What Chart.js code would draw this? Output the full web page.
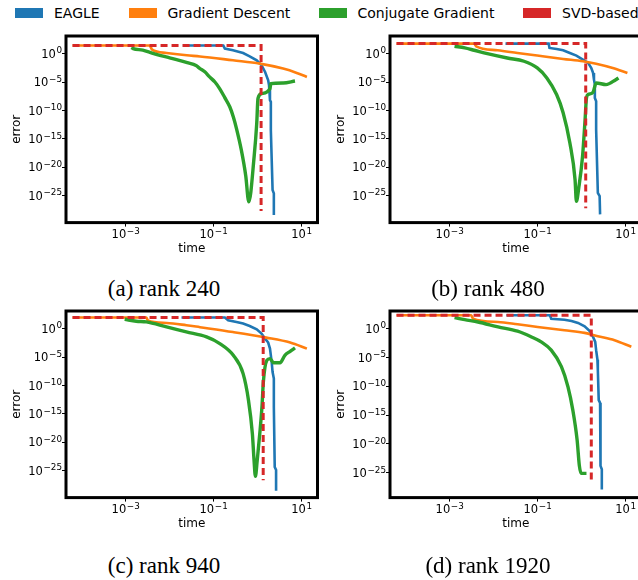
<!DOCTYPE html>
<html>
<head>
<meta charset="utf-8">
<script src="https://cdn.jsdelivr.net/npm/chart.js@4.4.0/dist/chart.umd.min.js"></script>
<style>
  body { margin: 0; width: 638px; height: 580px; overflow: hidden; background: #fff; position: relative; font-family: "DejaVu Sans", sans-serif; }
  canvas { position: absolute; }
  .lbox { position: absolute; top: 8px; width: 28px; height: 10px; }
  .ltext { position: absolute; top: 5px; font-size: 14px; line-height: 16px; color: #000; white-space: nowrap; }
  .cap { position: absolute; font-family: "Liberation Serif", serif; font-size: 23px; line-height: 26px; color: #000; white-space: nowrap; transform: translate(-50%, -50%); }
</style>
</head>
<body>
<!-- Legende -->
<div class="lbox" style="left:15px;background:#1f77b4"></div><div class="ltext" style="left:54px">EAGLE</div>
<div class="lbox" style="left:128.5px;background:#ff7f0e"></div><div class="ltext" style="left:167.5px">Gradient Descent</div>
<div class="lbox" style="left:318.5px;background:#2ca02c"></div><div class="ltext" style="left:357.5px">Conjugate Gradient</div>
<div class="lbox" style="left:522.5px;background:#d62728"></div><div class="ltext" style="left:562px">SVD-based</div>

<canvas id="pa" width="330" height="235" style="left:0px;top:28px"></canvas>
<canvas id="pb" width="330" height="235" style="left:324px;top:28px"></canvas>
<canvas id="pc" width="330" height="235" style="left:0px;top:303px"></canvas>
<canvas id="pd" width="330" height="235" style="left:324px;top:303px"></canvas>

<div class="cap" style="left:164px;top:289px">(a) rank 240</div>
<div class="cap" style="left:488px;top:289px">(b) rank 480</div>
<div class="cap" style="left:164px;top:566px">(c) rank 940</div>
<div class="cap" style="left:488px;top:566px">(d) rank 1920</div>

<script>
// Achsen: Ticks und Beschriftung (Basis 10, Exponent)
const xTicks = [1e-3, 1e-1, 1e1];
const xTickExp = ['\u22123', '\u22121', '1'];
const yTicks = [1, 1e-5, 1e-10, 1e-15, 1e-20, 1e-25];
const yTickExp = ['0', '\u22125', '\u221210', '\u221215', '\u221220', '\u221225'];
const xMin = 4.4e-5, xMax = 23;

// (a) rank 240
const eagleA_t = [0.02, 0.166, 0.18, 0.275, 0.468, 0.66, 0.955, 1.23, 1.48, 1.74, 1.82, 1.91, 2.0, 2.0, 2.19, 2.34, 2.34];
const eagleA_err = [26, 26, 7.6, 3.8, 1.26, 0.33, 0.066, 8.7e-3, 5.8e-4, 2e-5, 2.6e-6, 6.3e-9, 3.2e-9, 3.2e-14, 1e-24, 2.5e-25, 4e-29];
const gdA_t = [6.2e-5, 3.5e-3, 4e-3, 8.5e-3, 0.0245, 0.049, 0.275, 1.12, 3.8, 7.76, 13.2];
const gdA_err = [26, 26, 5.0, 1.3, 0.5, 0.32, 0.066, 0.0174, 2.3e-3, 4e-4, 7.9e-5];
const cgA_t = [1.35e-3, 1.48e-3, 2.45e-3, 3.98e-3, 6.3e-3, 0.01, 0.0158, 0.0251, 0.0398, 0.049, 0.063, 0.081, 0.107, 0.138, 0.178, 0.234, 0.282, 0.331, 0.427, 0.537, 0.63, 0.832, 0.955, 1.02, 1.23, 1.91, 2.0, 3.8, 7.08];
const cgA_err = [12, 7.6, 4.0, 1.26, 0.45, 0.18, 0.071, 0.025, 7.9e-3, 2.3e-3, 6.3e-4, 7.9e-5, 1e-5, 6.3e-7, 2e-8, 4e-10, 6.3e-12, 6.3e-14, 1e-17, 3.2e-22, 8e-27, 6.3e-19, 5e-13, 1.26e-8, 8.9e-8, 6.9e-7, 5.2e-6, 6.8e-6, 1.5e-5];
const svdA_t = [6.2e-5, 1.2, 1.2];
const svdA_err = [26, 26, 2e-28];

// (b) rank 480
const eagleB_t = [0.0186, 0.178, 0.186, 0.27, 0.38, 0.54, 0.76, 1.07, 1.41, 1.66, 1.82, 1.91, 2.0, 2.0, 2.14, 2.14, 2.34, 2.57, 2.63];
const eagleB_err = [58, 58, 10, 6.6, 3.9, 1.3, 0.45, 0.087, 0.023, 3e-3, 4e-4, 2.6e-5, 3.5e-6, 1.6e-8, 4e-9, 4e-14, 3e-25, 8e-26, 5e-29];
const gdB_t = [6.2e-5, 3.6e-3, 4e-3, 0.0123, 0.0347, 0.098, 0.38, 1.07, 2.14, 5.1, 11];
const gdB_err = [58, 58, 19.5, 3.9, 1.3, 0.45, 0.115, 0.045, 0.017, 3e-3, 4e-4];
const cgB_t = [1.29e-3, 2.2e-3, 3.6e-3, 7.2e-3, 0.0204, 0.049, 0.098, 0.162, 0.27, 0.38, 0.54, 0.71, 0.76, 0.87, 1.05, 1.2, 1.29, 1.41, 1.82, 2.14, 3.6, 6.0, 6.9];
const cgB_err = [19.5, 10, 3.9, 1, 0.17, 0.045, 3e-3, 5.2e-5, 6.3e-8, 4e-11, 2e-16, 6.3e-23, 1e-26, 4e-24, 8e-19, 2.5e-12, 1.6e-8, 6.3e-8, 1.6e-7, 6.9e-6, 3.5e-6, 2.6e-5, 5.2e-5];
const svdB_t = [6.2e-5, 1.24, 1.24];
const svdB_err = [58, 58, 6e-28];

// (c) rank 940
const eagleC_t = [0.0186, 0.18, 0.214, 0.331, 0.468, 0.66, 0.955, 1.23, 1.48, 1.74, 1.91, 2.0, 2.09, 2.19, 2.34, 2.34, 2.45, 2.63, 2.63];
const eagleC_err = [89, 89, 29, 15, 7.6, 2.9, 0.76, 0.13, 0.017, 3.5e-3, 3e-4, 2e-5, 1.3e-6, 2.3e-8, 1.6e-9, 1.6e-14, 4.5e-25, 1.3e-25, 3e-29];
const gdC_t = [6.2e-5, 2.95e-3, 3.2e-3, 8.5e-3, 0.024, 0.049, 0.275, 1.58, 5.5, 13.2];
const gdC_err = [89, 89, 28, 10, 4, 1.8, 0.25, 0.026, 3.5e-3, 3e-4];
const cgC_t = [9.5e-4, 1.74e-3, 2.95e-3, 8.5e-3, 0.024, 0.069, 0.138, 0.28, 0.468, 0.62, 0.76, 0.83, 0.89, 0.98, 1.12, 1.26, 1.35, 1.62, 1.91, 2.29, 3.24, 4.17, 5.5, 7.08];
const cgC_err = [44, 19.5, 15, 1.95, 0.26, 0.034, 2.3e-3, 2e-5, 1.2e-8, 2.5e-13, 3.2e-19, 6.3e-24, 1e-26, 6.3e-24, 3.2e-19, 2.5e-14, 4e-10, 2.6e-6, 5.2e-6, 1e-6, 1e-6, 2e-5, 1e-4, 4e-4];
const svdC_t = [6.2e-5, 1.34, 1.34];
const svdC_err = [89, 89, 2e-27];

// (d) rank 1920
const eagleD_t = [0.0195, 0.19, 0.204, 0.407, 0.59, 0.83, 1.17, 1.51, 1.82, 2.04, 2.14, 2.29, 2.34, 2.45, 2.63, 2.69, 2.88, 2.88];
const eagleD_err = [200, 200, 52, 35, 21, 9.5, 2.5, 0.4, 0.036, 5e-3, 1.8e-4, 4e-6, 6.3e-8, 4e-13, 1.3e-13, 1.6e-24, 4e-25, 1.3e-28];
const gdD_t = [6.2e-5, 3.1e-3, 3.4e-3, 0.0126, 0.035, 0.1, 0.407, 1.17, 2.34, 5.6, 13.5];
const gdD_err = [200, 200, 52, 14, 5.6, 1.95, 0.51, 0.18, 0.048, 9.8e-3, 6.9e-4];
const cgD_t = [1.29e-3, 2.2e-3, 4.4e-3, 0.0126, 0.035, 0.072, 0.12, 0.204, 0.347, 0.49, 0.63, 0.79, 0.89, 0.98, 1.29];
const cgD_err = [80, 35, 14, 1.95, 0.35, 0.036, 5e-3, 1.8e-4, 2.5e-7, 8e-11, 8e-15, 5e-20, 1.6e-24, 8e-26, 8e-26];
const svdD_t = [6.2e-5, 1.66, 1.66];
const svdD_err = [200, 200, 2.5e-27];

function pts(t, e) {
  return t.map((v, i) => ({ x: v, y: e[i] }));
}

// "10" mit hochgestelltem Exponenten, y = Mitte der Ziffern
function drawPow(c, exp, x, y, align) {
  const baseFont = '11.5px "DejaVu Sans"', expFont = '8.8px "DejaVu Sans"';
  c.font = baseFont;
  const bw = c.measureText('10').width;
  c.font = expFont;
  const ew = c.measureText(exp).width;
  const total = bw + 0.6 + ew;
  const x0 = align === 'center' ? x - total / 2 : x - total;
  const baseline = y + 4.2;
  c.textAlign = 'left';
  c.textBaseline = 'alphabetic';
  c.font = baseFont;
  c.fillText('10', x0, baseline);
  c.font = expFont;
  c.fillText(exp, x0 + bw + 0.6, baseline - 4.4);
}

// schwarzer Rahmen + Tick-Beschriftung
const frame = {
  id: 'frame',
  afterDatasetsDraw(chart) {
    const a = chart.chartArea, c = chart.ctx;
    c.save();
    c.strokeStyle = '#000';
    c.lineWidth = 3;
    c.strokeRect(a.left, a.top, a.right - a.left, a.bottom - a.top);
    c.fillStyle = '#000';
    xTicks.forEach((v, i) => drawPow(c, xTickExp[i], chart.scales.x.getPixelForValue(v), a.bottom + 11.4, 'center'));
    yTicks.forEach((v, i) => drawPow(c, yTickExp[i], a.left - 4, chart.scales.y.getPixelForValue(v), 'right'));
    c.restore();
  }
};

function line(label, data, color, width, order, dash, smooth) {
  return {
    label: label, data: data, borderColor: color, backgroundColor: color,
    borderWidth: width, showLine: true, pointRadius: 0, tension: 0,
    cubicInterpolationMode: smooth ? 'monotone' : 'default',
    order: order, borderDash: dash || []
  };
}

function drawPanel(id, eT, eE, gT, gE, cT, cE, sT, sE, yMin, yMax) {
  new Chart(document.getElementById(id), {
    type: 'scatter',
    data: {
      datasets: [
        line('EAGLE', pts(eT, eE), '#1f77b4', 2.6, 3),
        line('Gradient Descent', pts(gT, gE), '#ff7f0e', 2.6, 2, null, true),
        line('Conjugate Gradient', pts(cT, cE), '#2ca02c', 3.4, 1, null, true),
        line('SVD-based', pts(sT, sE), '#d62728', 3, 0, [7, 4])
      ]
    },
    options: {
      responsive: false,
      animation: false,
      layout: { padding: { top: 8, right: 12.5, left: 0, bottom: 0 } },
      plugins: { legend: { display: false }, tooltip: { enabled: false } },
      scales: {
        x: {
          type: 'logarithmic', min: xMin, max: xMax,
          afterBuildTicks: s => { s.ticks = xTicks.map(v => ({ value: v })); },
          afterFit: s => { s.height = 40.4; },
          ticks: { display: false, autoSkip: false },
          grid: { drawOnChartArea: false, tickLength: 4, tickColor: '#000' },
          border: { display: false },
          title: { display: true, text: 'time', color: '#000', font: { family: 'DejaVu Sans', size: 12 }, padding: { top: 0, bottom: 6.8 } }
        },
        y: {
          type: 'logarithmic', min: yMin, max: yMax,
          afterBuildTicks: s => { s.ticks = yTicks.map(v => ({ value: v })); },
          afterFit: s => { s.width = 66; },
          ticks: { display: false, autoSkip: false },
          grid: { drawOnChartArea: false, tickLength: 4, tickColor: '#000' },
          border: { display: false },
          title: { display: true, text: 'error', color: '#000', font: { family: 'DejaVu Sans', size: 12 }, padding: { top: 9.5, bottom: 0 } }
        }
      }
    },
    plugins: [frame]
  });
}

drawPanel('pa', eagleA_t, eagleA_err, gdA_t, gdA_err, cgA_t, cgA_err, svdA_t, svdA_err, 1.8e-30, 1259);
drawPanel('pb', eagleB_t, eagleB_err, gdB_t, gdB_err, cgB_t, cgB_err, svdB_t, svdB_err, 1.8e-30, 1259);
drawPanel('pc', eagleC_t, eagleC_err, gdC_t, gdC_err, cgC_t, cgC_err, svdC_t, svdC_err, 1.8e-30, 1259);
drawPanel('pd', eagleD_t, eagleD_err, gdD_t, gdD_err, cgD_t, cgD_err, svdD_t, svdD_err, 5e-30, 1122);
</script>
</body>
</html>
